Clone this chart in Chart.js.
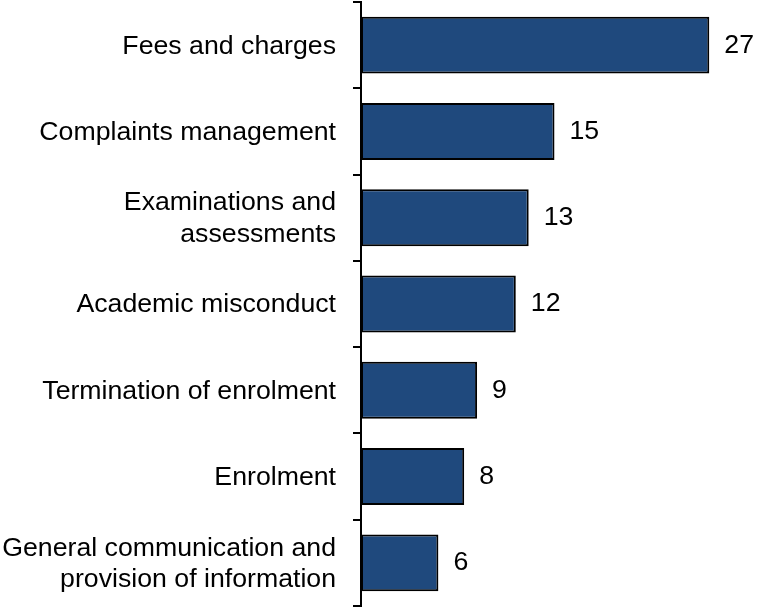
<!DOCTYPE html>
<html>
<head>
<meta charset="utf-8">
<script src="https://cdn.jsdelivr.net/npm/chart.js@4/dist/chart.umd.min.js"></script>
<style>
  html, body { margin: 0; padding: 0; background: #fff; }
  #wrap { width: 757px; height: 607px; }
</style>
</head>
<body>
<div id="wrap"><canvas id="chart"></canvas></div>
<script>
// complaint categories, top to bottom
const categories = [
  'Fees and charges',
  'Complaints management',
  ['Examinations and', 'assessments'],
  'Academic misconduct',
  'Termination of enrolment',
  'Enrolment',
  ['General communication and', 'provision of information']
];
const counts = [27, 15, 13, 12, 9, 8, 6];
const axisMax = 30;

const barColor = '#1F497D';
const fontFamily = "'Liberation Sans', Arial, sans-serif";
const fontSize = 26.7;

// writes the count just past the end of each bar
const valueLabels = {
  id: 'valueLabels',
  afterDatasetsDraw(chart) {
    const ctx = chart.ctx;
    const meta = chart.getDatasetMeta(0);
    ctx.save();
    ctx.font = fontSize + 'px ' + fontFamily;
    ctx.fillStyle = '#000';
    ctx.textAlign = 'left';
    ctx.textBaseline = 'middle';
    meta.data.forEach((bar, i) => {
      ctx.fillText(String(counts[i]), bar.x + 15, bar.y);
    });
    ctx.restore();
  }
};

const ctx = document.getElementById('chart');
const myChart = new Chart(ctx, {
  type: 'bar',
  data: {
    labels: categories,
    datasets: [{
      data: counts,
      backgroundColor: barColor,
      borderColor: '#000',
      borderWidth: 2,
      borderSkipped: false,
      categoryPercentage: 1,
      barPercentage: 0.66
    }]
  },
  options: {
    indexAxis: 'y',
    responsive: true,
    maintainAspectRatio: false,
    animation: false,
    layout: { padding: { top: 2, bottom: 1, left: 0, right: 9 } },
    plugins: {
      legend: { display: false },
      tooltip: { enabled: false }
    },
    scales: {
      x: {
        display: false,
        min: 0,
        max: axisMax
      },
      y: {
        // fixed label column, and no extra room above/below for the end labels
        afterFit(scale) {
          scale.width = 361;
          scale.paddingTop = 0;
          scale.paddingBottom = 0;
        },
        border: { display: true, color: '#000', width: 2 },
        grid: {
          display: true,
          offset: true,
          drawOnChartArea: false,
          drawTicks: true,
          tickLength: 8,
          color: '#000',
          lineWidth: 2
        },
        ticks: {
          color: '#000',
          padding: 17,
          labelOffset: 1,
          font: { family: fontFamily, size: fontSize, lineHeight: 1.17 }
        }
      }
    }
  },
  plugins: [valueLabels]
});
</script>
</body>
</html>
